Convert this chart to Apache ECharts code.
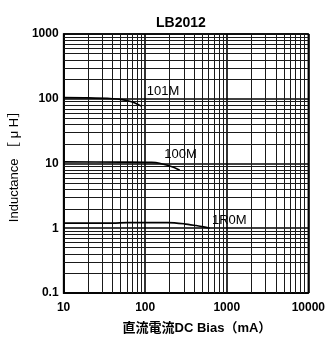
<!DOCTYPE html>
<html>
<head>
<meta charset="utf-8">
<script src="https://cdn.jsdelivr.net/npm/echarts@6/dist/echarts.min.js"></script>
<style>
  html, body { margin: 0; padding: 0; background: #fff; }
  #chart { width: 328px; height: 340px; }
</style>
</head>
<body>
<div id="chart"></div>
<script>
// DC bias current (mA) vs inductance (uH)
const bias101M = [10, 20, 40, 52, 63, 75, 90];
const ind101M  = [104, 103, 100, 97, 92, 86, 77];

const bias100M = [10, 50, 120, 150, 190, 230, 265];
const ind100M  = [10.6, 10.5, 10.4, 10.1, 9.3, 8.6, 7.9];

const bias1R0M = [10, 40, 60, 190, 300, 420, 520, 620];
const ind1R0M  = [1.2, 1.2, 1.22, 1.22, 1.17, 1.1, 1.05, 1.0];

// part labels and where they sit (data coords)
const partNames = ['101M', '100M', '1R0M'];
const partLabelAt = [[166, 132], [272, 14], [1075, 1.34]];

const font = '"Liberation Sans", Arial, sans-serif';
const fontJp = '"Liberation Sans", "Noto Sans CJK JP", sans-serif';

const chart = echarts.init(document.getElementById('chart'));

function pairs(xs, ys) {
    let out = [];
    for (let i = 0; i < xs.length; i++) {
        out.push([xs[i], ys[i]]);
    }
    return out;
}

// minor log gridlines (2..9 in every decade)
function minorLines(from, to, key) {
    let lines = [];
    for (let d = from; d < to; d *= 10) {
        for (let m = 2; m <= 9; m++) {
            let o = {};
            o[key] = +(d * m).toPrecision(6);
            lines.push(o);
        }
    }
    return lines;
}
const gridMinor = minorLines(10, 10000, 'xAxis').concat(minorLines(0.1, 1000, 'yAxis'));

const fmt = function (v) { return String(+(+v).toPrecision(6)); };

let curves = [
    pairs(bias101M, ind101M),
    pairs(bias100M, ind100M),
    pairs(bias1R0M, ind1R0M)
];

let series = [];
for (let i = 0; i < curves.length; i++) {
    series.push({
        type: 'line',
        data: curves[i],
        showSymbol: false,
        smooth: 0.3,
        silent: true,
        z: 5,
        lineStyle: { color: '#000', width: 1.6 },
        markPoint: {
            silent: true,
            symbol: 'circle',
            symbolSize: 0,
            label: {
                show: true,
                position: 'inside',
                formatter: partNames[i],
                color: '#000',
                fontFamily: font,
                fontSize: 13
            },
            data: [{ coord: partLabelAt[i] }]
        }
    });
}
// gridline holder
series.push({
    type: 'line',
    data: [],
    silent: true,
    z: 1,
    markLine: {
        silent: true,
        symbol: 'none',
        animation: false,
        label: { show: false },
        lineStyle: { color: '#1a1a1a', width: 1, type: 'solid' },
        data: gridMinor
    }
});

chart.setOption({
    animation: false,
    title: {
        text: 'LB2012',
        left: 151,
        top: 11,
        textStyle: { fontFamily: font, fontSize: 14, fontWeight: 'bold', color: '#000' }
    },
    grid: {
        left: 60, right: 17, top: 34, bottom: 47,
        show: true, borderColor: '#000', borderWidth: 1.5
    },
    xAxis: {
        type: 'log',
        logBase: 10,
        min: 10,
        max: 10000,
        name: '直流電流DC Bias（mA）',
        nameLocation: 'middle',
        nameGap: 29,
        nameTextStyle: {
            fontFamily: fontJp,
            fontSize: 13, fontWeight: 'bold', color: '#000',
            padding: [0, 0, 0, 22]
        },
        axisLine: { show: true, lineStyle: { color: '#000', width: 1.5 } },
        axisTick: { show: false },
        axisLabel: {
            formatter: fmt, margin: 9, showMaxLabel: true, showMinLabel: true,
            fontFamily: font, fontSize: 12, fontWeight: 'bold', color: '#000'
        },
        splitLine: { show: true, lineStyle: { color: '#000', width: 1.6 } }
    },
    yAxis: {
        type: 'log',
        logBase: 10,
        min: 0.1,
        max: 1000,
        name: 'Inductance ［ μ H］',
        nameLocation: 'middle',
        nameGap: 40,
        nameTextStyle: {
            fontFamily: fontJp, fontSize: 13, color: '#000'
        },
        axisLine: { show: true, lineStyle: { color: '#000', width: 1.5 } },
        axisTick: { show: false },
        axisLabel: {
            formatter: fmt, margin: 5,
            fontFamily: font, fontSize: 12, fontWeight: 'bold', color: '#000'
        },
        splitLine: { show: true, lineStyle: { color: '#000', width: 1.6 } }
    },
    series: series
});
</script>
</body>
</html>
